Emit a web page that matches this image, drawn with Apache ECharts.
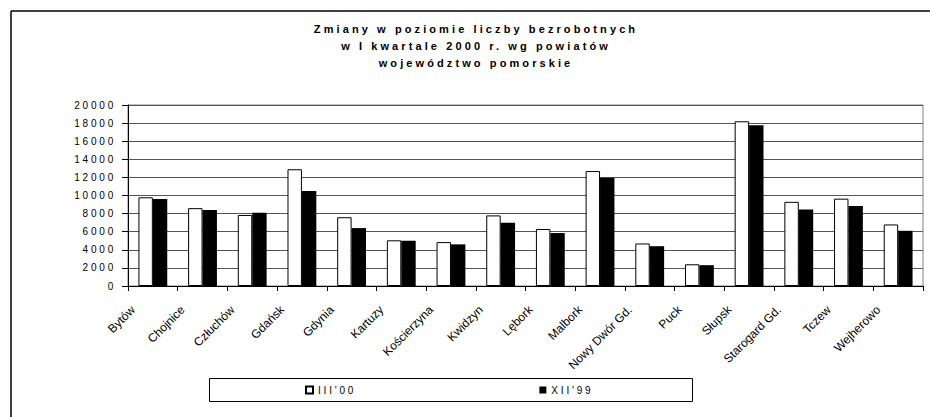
<!DOCTYPE html>
<html>
<head>
<meta charset="utf-8">
<script src="https://cdn.jsdelivr.net/npm/echarts@6/dist/echarts.min.js"></script>
<style>
  html, body { margin: 0; padding: 0; background: #fff; }
  #chart { width: 930px; height: 417px; }
  /* rozstrzelone litery jak w oryginale (tytul, os Y, legenda) */
  #chart text[style*="Liberation"] { letter-spacing: 2.8px; }
  #chart text[style*="Liberation"][style*="bold"] { letter-spacing: 3.1px; }
</style>
</head>
<body>
<div id="chart"></div>
<script>
// powiaty
var powiaty = ['Bytów', 'Chojnice', 'Człuchów', 'Gdańsk', 'Gdynia', 'Kartuzy', 'Kościerzyna', 'Kwidzyn',
	'Lębork', 'Malbork', 'Nowy Dwór Gd.', 'Puck', 'Słupsk', 'Starogard Gd.', 'Tczew', 'Wejherowo'];
// bezrobotni III'00
var marzec00 = [9800, 8600, 7850, 12900, 7600, 5050, 4850, 7800, 6300, 12700, 4700, 2400, 18200, 9300, 9650, 6800];
// bezrobotni XII'99
var grudzien99 = [9600, 8400, 8100, 10500, 6400, 5000, 4600, 7000, 5850, 11950, 4400, 2300, 17750, 8450, 8850, 6100];
var nazwySerii = ["III'00", "XII'99"];
var tytul = 'Zmiany w poziomie liczby bezrobotnych\nw I kwartale 2000 r. wg powiatów\nwojewództwo pomorskie';

var spaced = 'Liberation Sans';

var myChart = echarts.init(document.getElementById('chart'), null, { renderer: 'svg' });
myChart.setOption({
	animation: false,
	backgroundColor: '#fff',
	legend: {
		data: nazwySerii,
		left: 305,
		top: 385,
		padding: 0,
		itemWidth: 7,
		itemHeight: 7,
		itemGap: 200,
		icon: 'rect',
		textStyle: {
			fontFamily: spaced,
			fontSize: 10,
			color: '#000'
		}
	},
	grid: {
		left: 128,
		right: 7,
		top: 105,
		bottom: 131,
		show: true,
		borderColor: '#808080',
		borderWidth: 1
	},
	xAxis: {
		type: 'category',
		data: powiaty,
		axisLine: { lineStyle: { color: '#000', width: 1 } },
		axisTick: { show: true, length: 5, lineStyle: { color: '#000' } },
		axisLabel: {
			interval: 0,
			rotate: 45,
			margin: 2,
			padding: [0, 28, 0, 0],
			fontFamily: 'Arial',
			fontSize: 12,
			color: '#000'
		}
	},
	yAxis: {
		type: 'value',
		min: 0,
		max: 20000,
		interval: 2000,
		axisLine: { show: true, lineStyle: { color: '#000', width: 1 } },
		axisTick: { show: true, length: 6, lineStyle: { color: '#000' } },
		axisLabel: {
			margin: 12,
			fontFamily: spaced,
			fontSize: 10,
			color: '#000',
			formatter: function (v) { return String(v); }
		},
		splitLine: { lineStyle: { color: '#555', width: 1 } }
	},
	series: [{
		name: nazwySerii[0],
		type: 'bar',
		data: marzec00,
		barGap: '0%',
		barCategoryGap: '42%',
		itemStyle: { color: '#fff', borderColor: '#000', borderWidth: 1 }
	}, {
		name: nazwySerii[1],
		type: 'bar',
		data: grudzien99,
		itemStyle: { color: '#000' }
	}],
	graphic: [{
		// tytul
		type: 'text',
		x: 476,
		y: 20,
		style: {
			text: tytul,
			textAlign: 'center',
			textVerticalAlign: 'top',
			fontFamily: spaced,
			fontSize: 11,
			fontWeight: 'bold',
			lineHeight: 17,
			fill: '#000'
		}
	}, {
		type: 'line',
		shape: { x1: 11, y1: 11, x2: 930, y2: 11 },
		style: { stroke: '#000', lineWidth: 1.5 }
	}, {
		type: 'line',
		shape: { x1: 11, y1: 11, x2: 11, y2: 417 },
		style: { stroke: '#000', lineWidth: 1.5 }
	}, {
		type: 'rect',
		shape: { x: 209.5, y: 378.5, width: 483, height: 23 },
		style: { fill: 'none', stroke: '#000', lineWidth: 1 }
	}]
});
</script>
</body>
</html>
